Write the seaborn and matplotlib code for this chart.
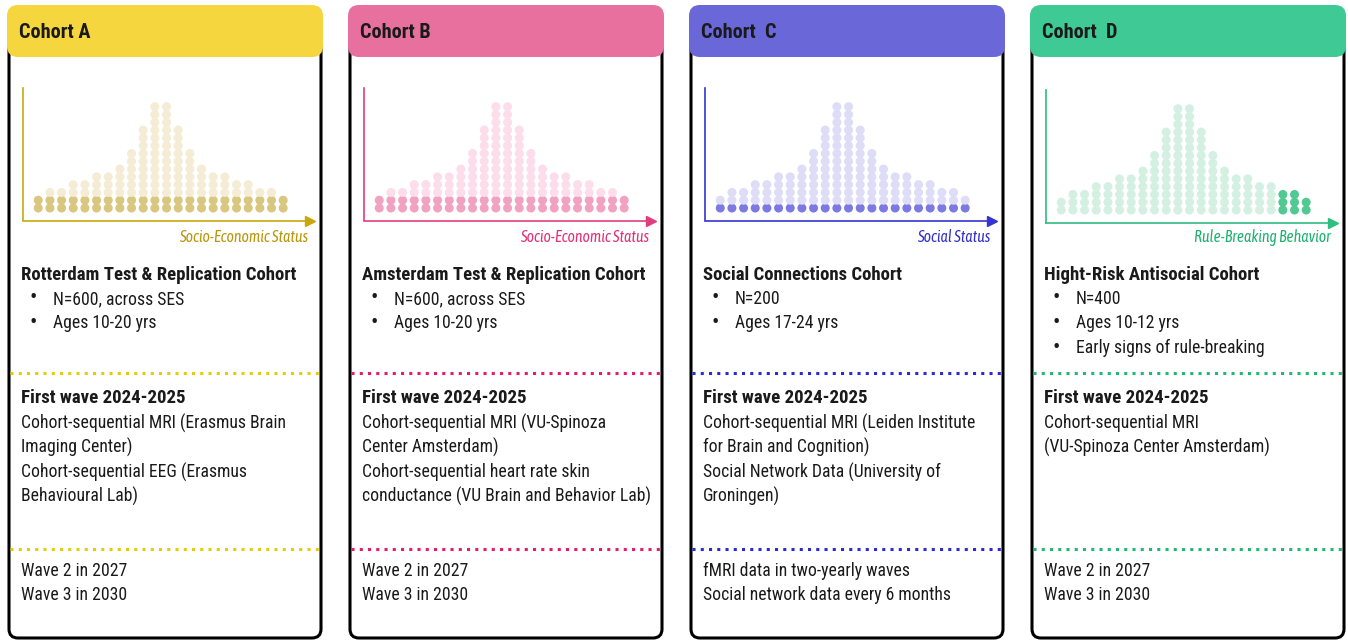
import matplotlib
matplotlib.use("Agg")
import matplotlib.pyplot as plt
from matplotlib.patches import FancyBboxPatch
from matplotlib import font_manager
import pandas as pd
import seaborn as sns

# _____1. DATA_____
cohort_names = ["Cohort A", "Cohort B", "Cohort  C", "Cohort  D"]
axis_labels = ["Socio-Economic Status", "Socio-Economic Status",
               "Social Status", "Rule-Breaking Behavior"]
dot_counts = [2, 3, 3, 4, 4, 5, 5, 6, 8, 11, 14, 14, 11, 8, 6, 5, 5, 4, 4, 3, 3, 2]
dark_rows = [2, 2, 1, 0]                  # bottom rows in the darker shade
dark_cols = [[], [], [], [19, 20, 21]]    # whole columns in the darker shade

cohort_titles = ["Rotterdam Test & Replication Cohort",
                 "Amsterdam Test & Replication Cohort",
                 "Social Connections Cohort",
                 "Hight-Risk Antisocial Cohort"]
cohort_bullets = [["N=600, across SES", "Ages 10-20 yrs"],
                  ["N=600, across SES", "Ages 10-20 yrs"],
                  ["N=200", "Ages 17-24 yrs"],
                  ["N=400", "Ages 10-12 yrs", "Early signs of rule-breaking"]]
first_wave_lines = [["Cohort-sequential MRI (Erasmus Brain", "Imaging Center)",
                     "Cohort-sequential EEG (Erasmus", "Behavioural Lab)"],
                    ["Cohort-sequential MRI (VU-Spinoza", "Center Amsterdam)",
                     "Cohort-sequential heart rate skin",
                     "conductance (VU Brain and Behavior Lab)"],
                    ["Cohort-sequential MRI (Leiden Institute", "for Brain and Cognition)",
                     "Social Network Data (University of", "Groningen)"],
                    ["Cohort-sequential MRI", "(VU-Spinoza Center Amsterdam)"]]
later_lines = [["Wave 2 in 2027", "Wave 3 in 2030"],
               ["Wave 2 in 2027", "Wave 3 in 2030"],
               ["fMRI data in two-yearly waves", "Social network data every 6 months"],
               ["Wave 2 in 2027", "Wave 3 in 2030"]]

# _____2. STYLE_____
header_colors = ["#F5D63F", "#E8709F", "#6A68D8", "#3FC994"]
axis_colors = ["#C9A80E", "#E23C80", "#3434D2", "#2DBE80"]
label_colors = ["#B8960A", "#E0307A", "#3030C8", "#1FB070"]
dark_dot_colors = ["#D9C67F", "#F2A2C1", "#7C7AE2", "#52C993"]
light_dot_colors = ["#F4ECD4", "#FCDDE9", "#DEDCF6", "#D4F0E3"]
dotted_colors = ["#E6CC00", "#E8186A", "#2A2AD0", "#1DBB72"]

W, H = 1348, 641
CARD_LEFT = [7, 348, 689, 1030]
CARD_W = 316


def pick(options):
    installed = {f.name for f in font_manager.fontManager.ttflist}
    for name in options:
        if name in installed:
            return name
    return 'DejaVu Sans'


sns.set_style("white")
body_font = pick(["Roboto Condensed", "Archivo Narrow", "Fira Sans Condensed", "Barlow Condensed"])
label_font = pick(["Asap Condensed", "Fira Sans Condensed", "Roboto Condensed"])
plt.rcParams['font.family'] = [body_font, 'DejaVu Sans']
TXT = "#1a1a1a"

fig = plt.figure(figsize=(W / 100, H / 100), dpi=100)
ax = fig.add_axes([0, 0, 1, 1])
ax.set_xlim(0, W)
ax.set_ylim(H, 0)
ax.axis('off')

for i, x0 in enumerate(CARD_LEFT):
    # card body + header
    body = FancyBboxPatch((x0 + 2, 30), CARD_W - 4, 608,
                          boxstyle="round,pad=0,rounding_size=9",
                          facecolor="white", edgecolor="black", lw=2.2, zorder=1)
    ax.add_patch(body)
    head = FancyBboxPatch((x0, 5), CARD_W, 52,
                          boxstyle="round,pad=0,rounding_size=11",
                          facecolor=header_colors[i], edgecolor="none", zorder=2)
    ax.add_patch(head)
    ax.text(x0 + 12, 32, cohort_names[i], fontsize=14.6, fontweight='bold',
            va='center', ha='left', color=TXT, zorder=3)

    # dotted separators
    for yy in (373, 549):
        ax.plot([x0 + 3, x0 + CARD_W - 3], [yy, yy], color=dotted_colors[i],
                lw=2.2, linestyle=(0, (1, 1.7)), dash_capstyle='butt', zorder=3)

    # text blocks
    ax.text(x0 + 14, 275, cohort_titles[i], fontsize=13.5, fontweight='bold',
            va='center', ha='left', color=TXT)
    for k, line in enumerate(cohort_bullets[i]):
        yy = 299 + k * 24.5
        ax.text(x0 + 26, yy, "\u2022", fontsize=16, va='center', ha='center', color=TXT)
        ax.text(x0 + 46, yy, line, fontsize=12.7, va='center', ha='left', color=TXT)
    ax.text(x0 + 14, 398, "First wave 2024-2025", fontsize=13.6, fontweight='bold',
            va='center', ha='left', color=TXT)
    for k, line in enumerate(first_wave_lines[i]):
        ax.text(x0 + 14, 423 + k * 24.5, line, fontsize=12.7, va='center', ha='left', color=TXT)
    for k, line in enumerate(later_lines[i]):
        ax.text(x0 + 14, 571 + k * 24.5, line, fontsize=12.7, va='center', ha='left', color=TXT)

    # dot distribution
    dy = 2 if i == 3 else 0
    ax_left, ax_right = x0 + 15.5, x0 + 303
    ax_top, ax_bot = 88 + dy, 220.5 + dy
    cax = fig.add_axes([ax_left / W, 1 - ax_bot / H,
                        (ax_right - ax_left) / W, (ax_bot - ax_top) / H])
    rows = []
    for c, n in enumerate(dot_counts):
        for r in range(n):
            shade = 'dark' if (r < dark_rows[i] or c in dark_cols[i]) else 'light'
            rows.append({'col': c, 'row': r, 'shade': shade})
    df = pd.DataFrame(rows)
    sns.scatterplot(data=df, x='col', y='row', hue='shade',
                    palette={'dark': dark_dot_colors[i], 'light': light_dot_colors[i]},
                    s=42, linewidth=0, legend=False, ax=cax, zorder=3)
    cax.set_xlim(-1.35, 23.3)
    cax.set_ylim(-1.6, 15.4)
    cax.set_xticks([])
    cax.set_yticks([])
    cax.set_xlabel('')
    cax.set_ylabel('')
    cax.patch.set_alpha(0)
    for side in ('top', 'right'):
        cax.spines[side].set_visible(False)
    for side in ('left', 'bottom'):
        cax.spines[side].set_color(axis_colors[i])
        cax.spines[side].set_linewidth(1.2)
    cax.plot(1.0, 0, marker='>', ms=7, color=axis_colors[i], transform=cax.transAxes,
             clip_on=False, zorder=4)

    ax.text(x0 + 301, 238, axis_labels[i], fontsize=11.3, style='italic',
            family=[label_font, 'DejaVu Sans'],
            color=label_colors[i], ha='right', va='center')

fig.savefig("out.png", dpi=100, facecolor="white")
